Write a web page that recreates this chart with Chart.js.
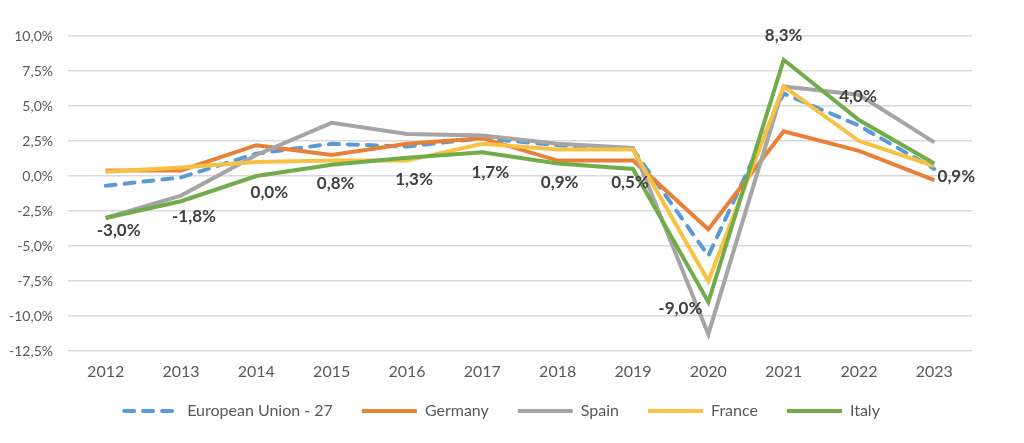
<!DOCTYPE html>
<html>
<head>
<meta charset="utf-8">
<script src="https://cdn.jsdelivr.net/npm/chart.js@4.4.1/dist/chart.umd.min.js"></script>
<style>
  html, body { margin: 0; padding: 0; background: #fff; }
  #growthChart { display: block; }
</style>
</head>
<body>
<canvas id="growthChart" width="1024" height="443"></canvas>
<script>
const years = ["2012", "2013", "2014", "2015", "2016", "2017", "2018", "2019", "2020", "2021", "2022", "2023"];

const euValues      = [-0.7, -0.1, 1.6, 2.3, 2.1, 2.7, 2.2, 1.9, -5.7, 5.9, 3.6, 0.5];
const germanyValues = [0.4, 0.4, 2.2, 1.5, 2.3, 2.7, 1.1, 1.1, -3.8, 3.2, 1.8, -0.3];
const spainValues   = [-3.0, -1.4, 1.5, 3.8, 3.0, 2.9, 2.3, 2.0, -11.3, 6.4, 5.8, 2.4];
const franceValues  = [0.3, 0.6, 1.0, 1.1, 1.1, 2.3, 1.9, 1.9, -7.5, 6.4, 2.5, 0.7];
const italyValues   = [-3.0, -1.8, 0.0, 0.8, 1.3, 1.7, 0.9, 0.5, -9.0, 8.3, 4.0, 0.9];

const yTicks = [10, 7.5, 5, 2.5, 0, -2.5, -5, -7.5, -10, -12.5];

// where the Italy labels sit relative to their point (dx, dy)
const italyLabelShift = [[13, 13], [13, 15], [13, 17], [4, 19], [7, 22], [8, 20], [2, 19], [-3, 14], [-28, 7], [0, -24], [-1, -23], [22, 13]];

const pct = v => v.toFixed(1).replace(".", ",") + "%";

const italyLabels = {
  id: "italyLabels",
  afterDatasetsDraw(chart) {
    const idx = chart.data.datasets.findIndex(d => d.label === "Italy");
    const meta = chart.getDatasetMeta(idx);
    const ctx = chart.ctx;
    ctx.save();
    ctx.font = "bold 17px Lato, 'Noto Sans', sans-serif";
    ctx.fillStyle = "#404040";
    ctx.textAlign = "center";
    ctx.textBaseline = "middle";
    meta.data.forEach((pt, i) => {
      const [dx, dy] = italyLabelShift[i];
      ctx.fillText(pct(italyValues[i]), pt.x + dx, pt.y + dy);
    });
    ctx.restore();
  }
};

// legend band: fixed height, drawn a bit higher so the wide item padding doesn't push it down
const legendBand = {
  id: "legendBand",
  beforeInit(chart) {
    const fit = chart.legend.fit;
    const draw = chart.legend.draw;
    chart.legend.fit = function () {
      fit.call(this);
      this.height = 61;
    };
    chart.legend.draw = function () {
      this.ctx.save();
      this.ctx.translate(16, -8);
      draw.call(this);
      this.ctx.restore();
    };
  }
};

const lineSet = (label, data, color, order, extra) => Object.assign({
  label: label,
  data: data,
  borderColor: color,
  backgroundColor: color,
  borderWidth: 4,
  pointRadius: 0,
  pointHoverRadius: 0,
  tension: 0,
  order: order
}, extra || {});

const ctx = document.getElementById("growthChart").getContext("2d");
new Chart(ctx, {
  type: "line",
  data: {
    labels: years,
    datasets: [
      lineSet("European Union - 27", euValues, "#5B9BD5", 5, { borderDash: [10, 9], borderCapStyle: "round" }),
      lineSet("Germany", germanyValues, "#E8803A", 4),
      lineSet("Spain", spainValues, "#A5A5A5", 3),
      lineSet("France", franceValues, "#F7C244", 2),
      lineSet("Italy", italyValues, "#72AB4A", 1)
    ]
  },
  options: {
    responsive: false,
    animation: false,
    layout: { padding: { top: 36, right: 52, left: 0, bottom: 0 } },
    plugins: {
      tooltip: { enabled: false },
      legend: {
        position: "bottom",
        labels: {
          usePointStyle: true,
          pointStyle: "line",
          pointStyleWidth: 55,
          padding: 29,
          color: "#595959",
          font: { family: "Lato", size: 16 },
          sort: (a, b) => a.datasetIndex - b.datasetIndex,
          generateLabels: chart => {
            const items = Chart.defaults.plugins.legend.labels.generateLabels(chart);
            items.forEach(it => {
              const ds = chart.data.datasets[it.datasetIndex];
              it.lineDash = ds.borderDash || [];
              it.lineCap = ds.borderCapStyle || "butt";
              it.lineWidth = 4;
            });
            return items;
          }
        }
      }
    },
    scales: {
      x: {
        offset: true,
        grid: { display: false, drawTicks: false },
        border: { display: false },
        ticks: { color: "#595959", padding: 11, font: { family: "Lato", size: 16 } },
        afterFit: scale => { scale.height = 31; }
      },
      y: {
        min: -12.5,
        max: 10,
        grid: { color: "#D9D9D9", lineWidth: 1.5, drawTicks: false },
        border: { display: false },
        afterBuildTicks: scale => { scale.ticks = yTicks.map(v => ({ value: v })); },
        ticks: {
          color: "#595959",
          padding: 15,
          font: { family: "Lato", size: 14 },
          callback: v => pct(v)
        },
        afterFit: scale => { scale.width = 68; }
      }
    }
  },
  plugins: [italyLabels, legendBand]
});
</script>
</body>
</html>
